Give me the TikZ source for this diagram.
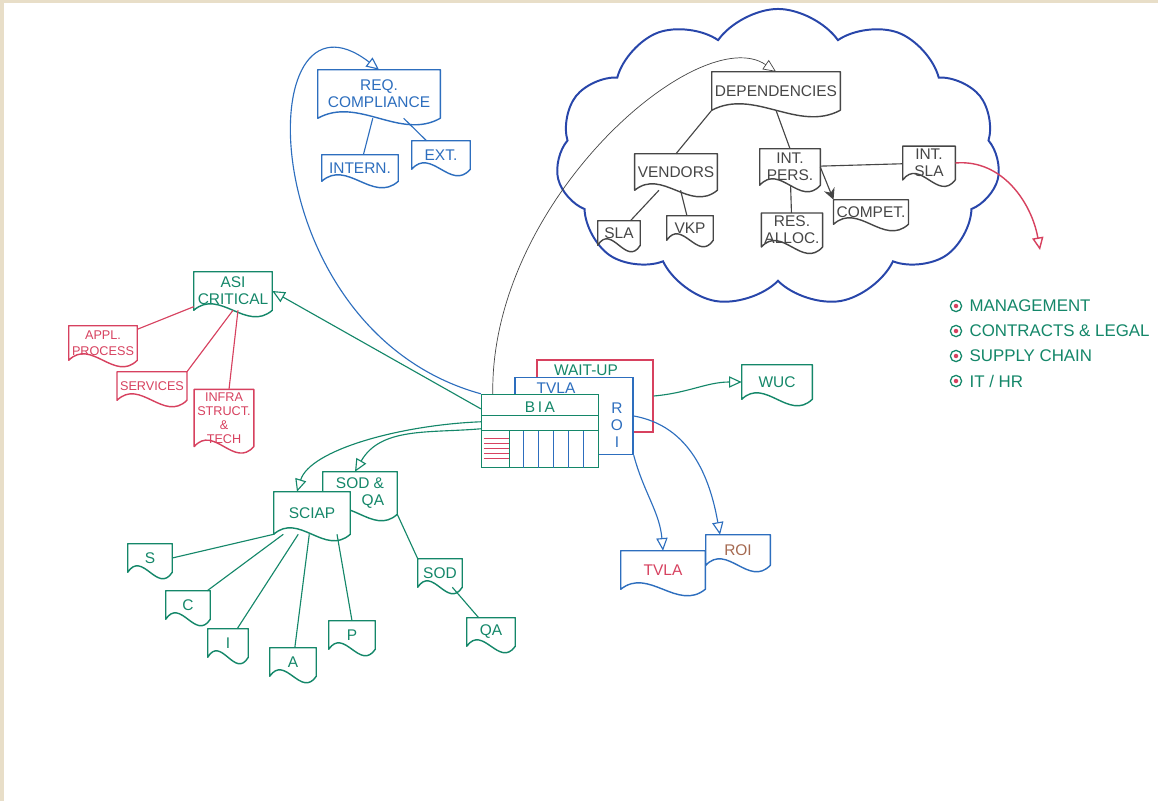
\documentclass[tikz,border=0pt]{standalone}
\usepackage{fontspec}
\setmainfont{Liberation Sans}
\usetikzlibrary{arrows.meta, calc, positioning, shapes.symbols}

\definecolor{skblue}{RGB}{45,110,190}
\definecolor{cloudblue}{RGB}{40,70,170}
\definecolor{skgray}{RGB}{70,70,70}
\definecolor{skteal}{RGB}{20,135,105}
\definecolor{skred}{RGB}{215,65,95}
\definecolor{roibrown}{RGB}{165,105,80}
\definecolor{beige}{RGB}{232,222,200}

\begin{document}
\begin{tikzpicture}[
        x=0.025cm, y=-0.025cm,
        font=\fontsize{11}{12}\selectfont,
        doc/.style={draw=none, align=center, inner sep=2pt, text=#1,
            append after command={\pgfextra{\edef\docname{\tikzlastnode}
                \filldraw[fill=white, draw=#1, line width=1pt, line join=round]
                    (\docname.south west) -- (\docname.north west)
                    -- (\docname.north east) -- (\docname.south east)
                    .. controls ($(\docname.south east)!0.33!(\docname.south west)+(0,-16pt)$)
                    and ($(\docname.south east)!0.67!(\docname.south west)+(0,16pt)$)
                    .. (\docname.south west) -- cycle;}}},
        plate/.style={draw=#1, fill=white, line width=1pt},
        link/.style={draw=#1, line width=0.8pt},
        arr/.style={draw=#1, line width=0.8pt, -{Triangle[open, length=9pt, width=8pt]}},
        bul/.style={circle, draw=skteal, line width=0.9pt, minimum size=8pt, inner sep=0pt,
            path picture={\fill[skred] (path picture bounding box.center) circle (1.6pt);}},
    ]
        \fill[beige] (0,0) rectangle (1158,801);
        \fill[white] (4,3) rectangle (1158,801);
        \useasboundingbox (0,0) rectangle (1158,801);

        % dependencies cloud
        \node[cloud, cloud puffs=11, cloud puff arc=110, cloud ignores aspect,
            draw=cloudblue, line width=1.4pt, minimum width=11.1cm, minimum height=7.45cm]
            (cloud) at (778,158) {};
        \node[doc=skgray, minimum width=3.2cm, minimum height=0.95cm] (dep) at (776,91) {DEPENDENCIES};
        \node[doc=skgray, minimum width=2cm, minimum height=0.9cm] (vendors) at (676,172) {VENDORS};
        \node[doc=skgray, minimum width=1.5cm, minimum height=0.9cm] (intpers) at (790,167) {INT.\\PERS.};
        \node[doc=skgray, minimum width=1.3cm, minimum height=0.75cm] (intsla) at (929,163) {INT.\\SLA};
        \node[doc=skgray, minimum width=1.05cm, minimum height=0.6cm] (sla) at (619,233) {SLA};
        \node[doc=skgray, minimum width=1.15cm, minimum height=0.6cm] (vkp) at (690,228) {VKP};
        \node[doc=skgray, minimum width=1.4cm, minimum height=0.75cm] (resalloc) at (792,230) {RES.\\ALLOC.};
        \node[doc=skgray, minimum width=1.7cm, minimum height=0.6cm] (compet) at (871,212) {COMPET.};
        \draw[link=skgray] (dep.south west) -- (vendors.north);
        \draw[link=skgray] (dep.south) -- (intpers.north);
        \draw[link=skgray] (vendors) -- (sla);
        \draw[link=skgray] (vendors) -- (vkp);
        \draw[link=skgray] (intpers) -- (resalloc);
        \draw[link=skgray, -{Stealth[length=8pt, width=8pt]}] (intpers.east) -- (compet.north west);
        \draw[link=skgray] (intsla) -- (intpers);
        \coordinate (redtip) at (1040,250);
        \draw[arr=skred, line width=1pt] (intsla.east) to[out=5, in=100] (redtip);

        % legend
        \foreach \txt [count=\i] in {MANAGEMENT, CONTRACTS \& LEGAL, SUPPLY CHAIN, IT / HR} {
            \node[bul] (b\i) at (956,281+25*\i) {};
            \node[right=5pt of b\i, text=skteal, inner sep=0pt, font=\fontsize{12}{13}\selectfont] (l\i) {\txt};
        }

        % compliance
        \node[doc=skblue, minimum width=3.05cm, minimum height=1.2cm] (req) at (379,94) {REQ.\\COMPLIANCE};
        \node[doc=skblue, minimum width=1.9cm, minimum height=0.65cm] (intern) at (360,168) {INTERN.};
        \node[doc=skblue, minimum width=1.45cm, minimum height=0.7cm] (ext) at (441,155) {EXT.};
        \draw[link=skblue] (req) -- (intern);
        \draw[link=skblue] (req) -- (ext);

        % asset criticality
        \node[doc=skteal, minimum width=1.95cm, minimum height=0.95cm] (asi) at (233,291) {ASI\\CRITICAL};
        \node[doc=skred, font=\small, minimum width=1.7cm, minimum height=0.85cm] (appl) at (103,343) {APPL.\\PROCESS};
        \node[doc=skred, font=\small, minimum width=1.7cm, minimum height=0.7cm] (services) at (152,386) {SERVICES};
        \node[doc=skred, font=\fontsize{9}{10}\selectfont, minimum width=1.35cm] (infra) at (224,418) {INFRA\\STRUCT.\\\&\\TECH};
        \draw[link=skred] (asi) -- (appl);
        \draw[link=skred] (asi.south) -- (services.north east);
        \draw[link=skred] ([shift={(5,0)}]asi.south) -- ([shift={(5,0)}]infra.north);

        % BIA stack
        \node[plate=skred, minimum width=2.9cm, minimum height=1.8cm] (waitup) at (595,396) {};
        \node[text=skteal] (waitlbl) at (586,370) {WAIT-UP};
        \node[plate=skblue, minimum width=2.95cm, minimum height=1.925cm] (tvla) at (574,416) {};
        \node[text=skblue] (tvlalbl) at (556,388) {TVLA};
        \node[plate=skteal, minimum width=2.925cm, minimum height=1.825cm] (bia) at (540,431) {};
        \node[text=skteal] (bialbl) at (540,407) {B\,I\,A};
        \node[text=skblue, align=center, inner sep=0pt] (roilbl) at (617,425) {R\\O\\I};
        \draw[link=skteal] ([shift={(0,22)}]bia.north west) -- ([shift={(0,22)}]bia.north east);
        \draw[link=skteal] ([shift={(0,37)}]bia.north west) -- ([shift={(0,37)}]bia.north east);
        \draw[link=skteal] ([shift={(29,37)}]bia.north west) -- ([shift={(29,0)}]bia.south west);
        \foreach \y in {45,50,55,60,65}
            \draw[link=skred] ([shift={(3,\y)}]bia.north west) -- ([shift={(28,\y)}]bia.north west);
        \foreach \x in {43,58,73,88,103}
            \draw[link=skblue] ([shift={(\x,37)}]bia.north west) -- ([shift={(\x,0)}]bia.south west);

        \node[doc=skteal, minimum width=1.75cm, minimum height=0.85cm] (wuc) at (777,382) {WUC};
        \draw[arr=skteal] (waitup.east) to[out=5, in=180] (wuc.west);

        \node[doc=skblue, text=skred, minimum width=2.1cm, minimum height=0.95cm] (tvla2) at (663,570) {TVLA};
        \node[doc=skblue, text=roibrown, minimum width=1.6cm, minimum height=0.75cm] (roi2) at (738,550) {ROI};
        \draw[arr=skblue] (tvla.east) to[out=-10, in=100] ([shift={(-18,0)}]roi2.north);
        \draw[arr=skblue] (tvla.south east) to[out=-75, in=95] (tvla2.north);

        % SCIAP
        \node[doc=skteal, align=right, minimum width=1.85cm, minimum height=1.05cm] (sodqa) at (360,493) {SOD \&\\QA};
        \node[doc=skteal, minimum width=1.9cm, minimum height=1.05cm] (sciap) at (312,513) {SCIAP};
        \node[doc=skteal, minimum width=1.1cm, minimum height=0.7cm] (s) at (150,558) {S};
        \node[doc=skteal, minimum width=1.1cm, minimum height=0.7cm] (c) at (188,605) {C};
        \node[doc=skteal, minimum width=1cm, minimum height=0.7cm] (i) at (228,643) {I};
        \node[doc=skteal, minimum width=1.15cm, minimum height=0.7cm] (a) at (293,662) {A};
        \node[doc=skteal, minimum width=1.15cm, minimum height=0.7cm] (p) at (352,635) {P};
        \node[doc=skteal, minimum width=1.1cm, minimum height=0.7cm] (sod) at (440,573) {SOD};
        \node[doc=skteal, minimum width=1.2cm, minimum height=0.7cm] (qa) at (491,632) {QA};
        \draw[link=skteal] (sciap.south west) -- (s.east);
        \draw[link=skteal] (sciap) -- (c);
        \draw[link=skteal] (sciap) -- (i);
        \draw[link=skteal] (sciap) -- (a);
        \draw[link=skteal] ([shift={(25,0)}]sciap.south) -- (p.north);
        \draw[link=skteal] (sodqa.south east) -- (sod.north west);
        \draw[link=skteal] (sod) -- (qa);

        % links out of BIA
        \draw[arr=skblue] (bia.north west) .. controls (250,330) and (250,-30) .. (req.north);
        \draw[link=skgray, line width=0.5pt, -{Triangle[open, length=9pt, width=8pt]}]
            ([shift={(12,0)}]bia.north west) .. controls (490,200) and (700,20) .. (dep.north);
        \draw[arr=skteal] ([shift={(0,15)}]bia.north west) -- (asi.east);
        \draw[arr=skteal] ([shift={(0,28)}]bia.north west) .. controls (400,425) and (310,450) .. ([shift={(-15,0)}]sciap.north);
        \draw[arr=skteal] ([shift={(0,35)}]bia.north west) to[out=185, in=60] ([shift={(-5,0)}]sodqa.north);
\end{tikzpicture}
\end{document}
